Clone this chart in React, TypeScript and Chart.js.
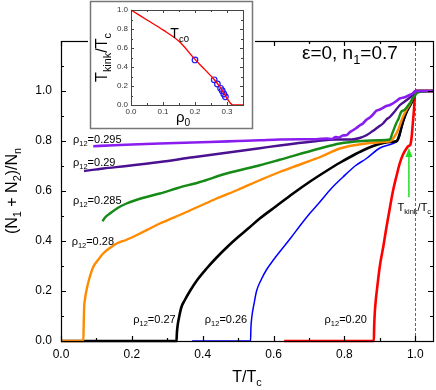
import React, { useEffect, useRef } from "react";
import { Chart, registerables } from "chart.js";
Chart.register(...registerables);

const FONT = 'Arial, "Liberation Sans", Helvetica, sans-serif';

// ---------------- main chart data: x = T/Tc, y = (N1+N2)/Nn ----------------
const T_0295 = [0.091, 0.15, 0.2, 0.279, 0.35, 0.42, 0.5, 0.561, 0.617, 0.68, 0.72, 0.75, 0.765, 0.775, 0.785, 0.795, 0.805, 0.815, 0.824, 0.833, 0.843, 0.852, 0.862, 0.871, 0.88, 0.89, 0.9, 0.918, 0.93, 0.945, 0.956, 0.97, 0.985, 0.993, 1.0, 1.05];
const N_0295 = [0.779, 0.783, 0.786, 0.79, 0.793, 0.796, 0.8, 0.803, 0.806, 0.807, 0.807, 0.81, 0.808, 0.816, 0.814, 0.822, 0.823, 0.835, 0.843, 0.851, 0.862, 0.87, 0.885, 0.893, 0.905, 0.921, 0.926, 0.94, 0.945, 0.958, 0.97, 0.975, 0.985, 0.99, 1.0, 1.0];

const T_029 = [0.065, 0.12, 0.185, 0.279, 0.373, 0.467, 0.561, 0.617, 0.711, 0.777, 0.82, 0.843, 0.862, 0.88, 0.899, 0.909, 0.918, 0.928, 0.94, 0.956, 0.975, 0.993, 1.0, 1.05];
const N_029 = [0.68, 0.69, 0.7, 0.716, 0.735, 0.753, 0.771, 0.782, 0.798, 0.806, 0.806, 0.812, 0.823, 0.84, 0.86, 0.87, 0.885, 0.896, 0.915, 0.943, 0.963, 0.985, 1.0, 1.0];

const T_0285 = [0.117, 0.125, 0.138, 0.16, 0.185, 0.23, 0.279, 0.33, 0.392, 0.467, 0.561, 0.617, 0.73, 0.787, 0.85, 0.9, 0.928, 0.935, 0.946, 0.953, 0.96, 0.97, 0.984, 0.995, 1.008, 1.05];
const N_0285 = [0.479, 0.495, 0.51, 0.532, 0.55, 0.572, 0.59, 0.612, 0.636, 0.67, 0.703, 0.725, 0.77, 0.79, 0.8, 0.803, 0.806, 0.83, 0.87, 0.89, 0.916, 0.925, 0.95, 0.975, 0.995, 1.0];

const T_028 = [0.0, 0.063, 0.064, 0.065, 0.068, 0.072, 0.08, 0.091, 0.105, 0.119, 0.138, 0.157, 0.185, 0.22, 0.251, 0.279, 0.345, 0.392, 0.439, 0.5, 0.561, 0.617, 0.673, 0.711, 0.73, 0.787, 0.85, 0.9, 0.93, 0.94, 0.951, 0.958, 0.965, 0.975, 0.984, 0.995, 1.0, 1.05];
const N_028 = [0, 0, 0.06, 0.123, 0.17, 0.203, 0.25, 0.296, 0.325, 0.35, 0.372, 0.39, 0.405, 0.428, 0.45, 0.47, 0.51, 0.54, 0.57, 0.605, 0.643, 0.676, 0.705, 0.725, 0.735, 0.77, 0.788, 0.795, 0.8, 0.815, 0.843, 0.87, 0.896, 0.925, 0.945, 0.98, 1.0, 1.0];

const T_027 = [0.0, 0.326, 0.327, 0.329, 0.334, 0.34, 0.35, 0.364, 0.385, 0.411, 0.44, 0.472, 0.5, 0.53, 0.561, 0.608, 0.655, 0.7, 0.749, 0.787, 0.824, 0.853, 0.881, 0.91, 0.937, 0.948, 0.953, 0.96, 0.967, 0.975, 0.993, 1.0, 1.05];
const N_027 = [0, 0, 0.03, 0.06, 0.1, 0.136, 0.165, 0.2, 0.245, 0.29, 0.335, 0.38, 0.416, 0.452, 0.49, 0.54, 0.59, 0.635, 0.68, 0.713, 0.742, 0.763, 0.78, 0.792, 0.797, 0.8, 0.815, 0.85, 0.885, 0.915, 0.965, 1.0, 1.0];

const T_026 = [0.37, 0.535, 0.536, 0.539, 0.545, 0.552, 0.565, 0.58, 0.6, 0.622, 0.65, 0.674, 0.702, 0.73, 0.763, 0.796, 0.83, 0.862, 0.9, 0.937, 0.951, 0.956, 0.96, 0.967, 0.975, 0.99, 1.0, 1.05];
const N_026 = [0, 0, 0.05, 0.1, 0.15, 0.2, 0.245, 0.285, 0.325, 0.365, 0.415, 0.46, 0.51, 0.555, 0.61, 0.656, 0.7, 0.73, 0.772, 0.79, 0.803, 0.82, 0.843, 0.88, 0.91, 0.965, 1.0, 1.0];

const T_020 = [0.63, 0.883, 0.884, 0.886, 0.889, 0.893, 0.9, 0.91, 0.918, 0.928, 0.937, 0.947, 0.956, 0.965, 0.975, 0.981, 0.986, 0.99, 0.993, 0.996, 0.998, 1.0, 1.05];
const N_020 = [0, 0, 0.06, 0.12, 0.17, 0.22, 0.3, 0.38, 0.45, 0.53, 0.6, 0.66, 0.71, 0.745, 0.77, 0.78, 0.785, 0.82, 0.87, 0.92, 0.963, 1.0, 1.0];

const SERIES_RHO = ["0.295", "0.29", "0.285", "0.28", "0.27", "0.26", "0.20"];
const SERIES_T = [T_0295, T_029, T_0285, T_028, T_027, T_026, T_020];
const SERIES_N = [N_0295, N_029, N_0285, N_028, N_027, N_026, N_020];
const SERIES_COLORS = ["#8a1cf0", "#4a1190", "#168a16", "#ff8a00", "#000000", "#0000ff", "#ff0000"];
const SERIES_WIDTHS = [2.6, 2.4, 2.4, 2.4, 2.6, 1.5, 2.6];

// label anchor positions (left edge, vertical centre) in data units
const LABEL_X = [0.034, 0.034, 0.034, 0.03, 0.204, 0.406, 0.744];
const LABEL_Y = [0.81, 0.716, 0.563, 0.4, 0.087, 0.087, 0.087];

// arrow marking T_kink
const ARROW_X = 0.982;
const ARROW_Y = [0.575, 0.772];

// ---------------- inset data: x = rho0, y = Tkink/Tc ----------------
const RHO0_LINE = [0, 0.05, 0.1, 0.15, 0.2, 0.23, 0.26, 0.28, 0.29, 0.3, 0.31, 0.318, 0.35];
const TKINK_LINE = [1.0, 0.895, 0.79, 0.67, 0.48, 0.375, 0.268, 0.18, 0.125, 0.07, 0.022, 0, 0];
const RHO0_PTS = [0.2, 0.26, 0.27, 0.28, 0.285, 0.29, 0.295];
const TKINK_PTS = [0.474, 0.265, 0.221, 0.176, 0.15, 0.116, 0.087];

type Part = { t: string; sub?: boolean };

function richWidth(ctx: CanvasRenderingContext2D, parts: Part[], size: number) {
  let w = 0;
  for (const p of parts) {
    ctx.font = `${p.sub ? size * 0.68 : size}px ${FONT}`;
    w += ctx.measureText(p.t).width;
  }
  return w;
}

function drawRich(
  ctx: CanvasRenderingContext2D,
  parts: Part[],
  x: number,
  y: number,
  size: number,
  align: "left" | "center" = "left",
  color = "#000"
) {
  const w = richWidth(ctx, parts, size);
  let cx = align === "center" ? x - w / 2 : x;
  ctx.save();
  ctx.fillStyle = color;
  ctx.textAlign = "left";
  ctx.textBaseline = "alphabetic";
  for (const p of parts) {
    const s = p.sub ? size * 0.68 : size;
    ctx.font = `${s}px ${FONT}`;
    ctx.fillText(p.t, cx, p.sub ? y + size * 0.28 : y);
    cx += ctx.measureText(p.t).width;
  }
  ctx.restore();
}

function drawFrameTicks(
  chart: any,
  xMaj: number[],
  xMin: number[],
  yMaj: number[],
  yMin: number[],
  majLen: number,
  minLen: number,
  color: string,
  lw: number
) {
  const ctx: CanvasRenderingContext2D = chart.ctx;
  const { left, right, top, bottom } = chart.chartArea;
  const xs = chart.scales.x;
  const ys = chart.scales.y;
  ctx.save();
  ctx.strokeStyle = color;
  ctx.lineWidth = lw;
  ctx.beginPath();
  const xTick = (v: number, len: number) => {
    const px = Math.round(xs.getPixelForValue(v)) + 0.5;
    ctx.moveTo(px, bottom);
    ctx.lineTo(px, bottom - len);
    ctx.moveTo(px, top);
    ctx.lineTo(px, top + len);
  };
  const yTick = (v: number, len: number) => {
    const py = Math.round(ys.getPixelForValue(v)) + 0.5;
    ctx.moveTo(left, py);
    ctx.lineTo(left + len, py);
    ctx.moveTo(right, py);
    ctx.lineTo(right - len, py);
  };
  xMaj.forEach((v) => xTick(v, majLen));
  xMin.forEach((v) => xTick(v, minLen));
  yMaj.forEach((v) => yTick(v, majLen));
  yMin.forEach((v) => yTick(v, minLen));
  ctx.stroke();
  ctx.strokeRect(Math.round(left) + 0.5, Math.round(top) + 0.5, Math.round(right - left), Math.round(bottom - top));
  ctx.restore();
}

const mainDecor = {
  id: "mainDecor",
  beforeDraw(chart: any) {
    const ctx = chart.ctx;
    ctx.save();
    ctx.fillStyle = "#fff";
    ctx.fillRect(0, 0, chart.width, chart.height);
    ctx.restore();
  },
  beforeDatasetsDraw(chart: any) {
    const ctx: CanvasRenderingContext2D = chart.ctx;
    const { top, bottom } = chart.chartArea;
    const px = Math.round(chart.scales.x.getPixelForValue(1.0)) + 0.5;
    ctx.save();
    ctx.strokeStyle = "#666";
    ctx.lineWidth = 1;
    ctx.setLineDash([3, 2]);
    ctx.beginPath();
    ctx.moveTo(px, bottom);
    ctx.lineTo(px, top);
    ctx.stroke();
    ctx.restore();
  },
  afterDraw(chart: any) {
    const ctx: CanvasRenderingContext2D = chart.ctx;
    const xs = chart.scales.x;
    const ys = chart.scales.y;
    const { left, right, top, bottom } = chart.chartArea;
    drawFrameTicks(
      chart,
      [0, 0.2, 0.4, 0.6, 0.8, 1.0],
      [0.1, 0.3, 0.5, 0.7, 0.9],
      [0, 0.2, 0.4, 0.6, 0.8, 1.0, 1.2],
      [0.1, 0.3, 0.5, 0.7, 0.9, 1.1],
      5,
      3,
      "#000",
      1.2
    );
    // rho12 labels
    SERIES_RHO.forEach((r, i) => {
      const x = xs.getPixelForValue(LABEL_X[i]);
      const y = ys.getPixelForValue(LABEL_Y[i]) + 4;
      drawRich(ctx, [{ t: "ρ" }, { t: "12", sub: true }, { t: "=" + r }], x, y, 11);
    });
    // annotation
    drawRich(
      ctx,
      [{ t: "ε=0, n" }, { t: "1", sub: true }, { t: "=0.7" }],
      xs.getPixelForValue(0.68),
      ys.getPixelForValue(1.156) + 7,
      19
    );
    // arrow
    const ax = xs.getPixelForValue(ARROW_X);
    const ay0 = ys.getPixelForValue(ARROW_Y[0]);
    const ay1 = ys.getPixelForValue(ARROW_Y[1]);
    ctx.save();
    ctx.strokeStyle = "#22dd22";
    ctx.fillStyle = "#22dd22";
    ctx.lineWidth = 1.5;
    ctx.beginPath();
    ctx.moveTo(ax, ay0);
    ctx.lineTo(ax, ay1 + 6);
    ctx.stroke();
    ctx.beginPath();
    ctx.moveTo(ax, ay1);
    ctx.lineTo(ax - 3.5, ay1 + 9);
    ctx.lineTo(ax + 3.5, ay1 + 9);
    ctx.closePath();
    ctx.fill();
    ctx.restore();
    drawRich(
      ctx,
      [{ t: "T" }, { t: "kink", sub: true }, { t: "/T" }, { t: "c", sub: true }],
      xs.getPixelForValue(0.95),
      ys.getPixelForValue(0.535) + 4,
      11
    );
    // axis titles
    drawRich(ctx, [{ t: "T/T" }, { t: "c", sub: true }], (left + right) / 2, 382, 16, "center");
    ctx.save();
    ctx.translate(17, (top + bottom) / 2);
    ctx.rotate(-Math.PI / 2);
    drawRich(
      ctx,
      [{ t: "(N" }, { t: "1", sub: true }, { t: " + N" }, { t: "2", sub: true }, { t: ")/N" }, { t: "n", sub: true }],
      0,
      0,
      16,
      "center"
    );
    ctx.restore();
  },
};

const insetDecor = {
  id: "insetDecor",
  beforeDraw(chart: any) {
    const ctx: CanvasRenderingContext2D = chart.ctx;
    ctx.save();
    ctx.fillStyle = "#fff";
    ctx.fillRect(0, 0, chart.width, chart.height);
    ctx.strokeStyle = "#777";
    ctx.lineWidth = 1.5;
    ctx.strokeRect(2.5, 1.5, chart.width - 5, chart.height - 4);
    ctx.restore();
  },
  afterDraw(chart: any) {
    const ctx: CanvasRenderingContext2D = chart.ctx;
    const xs = chart.scales.x;
    const ys = chart.scales.y;
    const { left, right, top, bottom } = chart.chartArea;
    drawFrameTicks(
      chart,
      [0, 0.1, 0.2, 0.3],
      [0.05, 0.15, 0.25, 0.35],
      [0, 0.2, 0.4, 0.6, 0.8, 1.0],
      [0.1, 0.3, 0.5, 0.7, 0.9],
      3,
      2,
      "#444",
      1
    );
    drawRich(ctx, [{ t: "T" }, { t: "c0", sub: true }], xs.getPixelForValue(0.123), ys.getPixelForValue(0.705), 14);
    drawRich(ctx, [{ t: "ρ" }, { t: "0", sub: true }], (left + right) / 2 - 4, 122, 15, "center");
    ctx.save();
    ctx.translate(19, (top + bottom) / 2);
    ctx.rotate(-Math.PI / 2);
    drawRich(ctx, [{ t: "T" }, { t: "kink", sub: true }, { t: "/T" }, { t: "c", sub: true }], 0, 0, 16, "center");
    ctx.restore();
  },
};

export default function App() {
  const mainRef = useRef<HTMLCanvasElement | null>(null);
  const insetRef = useRef<HTMLCanvasElement | null>(null);

  useEffect(() => {
    const datasets = SERIES_RHO.map((r, i) => ({
      label: "ρ12=" + r,
      data: SERIES_T[i].map((x, j) => ({ x, y: SERIES_N[i][j] })),
      borderColor: SERIES_COLORS[i],
      backgroundColor: SERIES_COLORS[i],
      borderWidth: SERIES_WIDTHS[i],
      pointRadius: 0,
      fill: false,
      cubicInterpolationMode: "monotone",
      borderJoinStyle: "round",
      clip: 3,
    }));
    const tickFmt = (v: any) => (Number(v) > 1.01 ? "" : Number(v).toFixed(1));
    const main = new Chart(mainRef.current as HTMLCanvasElement, {
      type: "line",
      data: { datasets },
      options: {
        animation: false,
        responsive: false,
        maintainAspectRatio: false,
        layout: { padding: { top: 41, right: 3, left: 0, bottom: 0 } },
        plugins: { legend: { display: false }, tooltip: { enabled: false } },
        scales: {
          x: {
            type: "linear",
            min: 0,
            max: 1.05,
            grid: { display: false, drawTicks: false },
            border: { display: false },
            ticks: {
              stepSize: 0.2,
              includeBounds: false,
              autoSkip: false,
              maxRotation: 0,
              callback: tickFmt,
              font: { family: FONT, size: 12 },
              color: "#000",
              padding: 6,
            },
            afterFit: (s: any) => {
              s.height = 49;
            },
          },
          y: {
            type: "linear",
            min: 0,
            max: 1.2,
            grid: { display: false, drawTicks: false },
            border: { display: false },
            ticks: {
              stepSize: 0.2,
              includeBounds: false,
              autoSkip: false,
              callback: tickFmt,
              font: { family: FONT, size: 12 },
              color: "#000",
              padding: 9,
            },
            afterFit: (s: any) => {
              s.width = 61;
            },
          },
        },
      } as any,
      plugins: [mainDecor],
    });

    const inset = new Chart(insetRef.current as HTMLCanvasElement, {
      type: "line",
      data: {
        datasets: [
          {
            label: "Tc0",
            data: RHO0_LINE.map((x, j) => ({ x, y: TKINK_LINE[j] })),
            borderColor: "#ff0000",
            borderWidth: 1.4,
            pointRadius: 0,
            fill: false,
            cubicInterpolationMode: "monotone",
            clip: 2,
          },
          {
            label: "Tkink",
            data: RHO0_PTS.map((x, j) => ({ x, y: TKINK_PTS[j] })),
            showLine: false,
            borderColor: "#1a1aff",
            backgroundColor: "rgba(0,0,0,0)",
            pointRadius: 2.8,
            pointBorderWidth: 1.2,
            pointStyle: "circle",
          },
        ],
      },
      options: {
        animation: false,
        responsive: false,
        maintainAspectRatio: false,
        layout: { padding: { top: 10, right: 12, left: 0, bottom: 0 } },
        plugins: { legend: { display: false }, tooltip: { enabled: false } },
        scales: {
          x: {
            type: "linear",
            min: 0,
            max: 0.35,
            grid: { display: false, drawTicks: false },
            border: { display: false },
            ticks: {
              stepSize: 0.1,
              includeBounds: false,
              autoSkip: false,
              maxRotation: 0,
              callback: (v: any) => Number(v).toFixed(1),
              font: { family: FONT, size: 8 },
              color: "#333",
              padding: 2,
            },
            afterFit: (s: any) => {
              s.height = 26;
            },
          },
          y: {
            type: "linear",
            min: 0,
            max: 1.0,
            grid: { display: false, drawTicks: false },
            border: { display: false },
            ticks: {
              stepSize: 0.2,
              includeBounds: false,
              autoSkip: false,
              callback: (v: any) => Number(v).toFixed(1),
              font: { family: FONT, size: 8 },
              color: "#333",
              padding: 3,
            },
            afterFit: (s: any) => {
              s.width = 43;
            },
          },
        },
      } as any,
      plugins: [insetDecor],
    });

    return () => {
      main.destroy();
      inset.destroy();
    };
  }, []);

  return (
    <div style={{ position: "fixed", left: 0, top: 0, width: 436, height: 390, background: "#fff" }}>
      <canvas
        ref={mainRef}
        width={436}
        height={390}
        style={{ position: "absolute", left: 0, top: 0, width: 436, height: 390 }}
      />
      <canvas
        ref={insetRef}
        width={167}
        height={131}
        style={{ position: "absolute", left: 88, top: 0, width: 167, height: 131 }}
      />
    </div>
  );
}
